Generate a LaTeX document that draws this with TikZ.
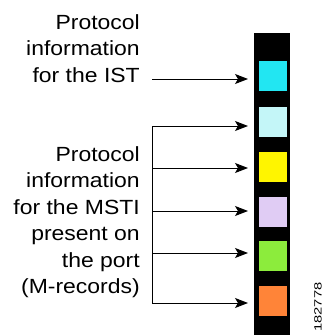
\documentclass[tikz,border=0pt]{standalone}
\usepackage{fontspec}
\setmainfont{Liberation Sans}
\usetikzlibrary{arrows.meta}
\definecolor{cIST}{HTML}{22E6F2}
\definecolor{cLC}{HTML}{C4F6F8}
\definecolor{cYel}{HTML}{FFF500}
\definecolor{cLav}{HTML}{E0CCF4}
\definecolor{cGrn}{HTML}{8CEC3C}
\definecolor{cOrg}{HTML}{FF8438}
\tikzset{
  sq/.style={draw=none, minimum width=28bp, minimum height=30bp, inner sep=0pt, outer sep=0pt},
  lbl/.style={align=right, anchor=north east, inner sep=0pt, xscale=1.12, transform shape,
    font=\fontsize{20.5bp}{26.5bp}\selectfont},
  arr/.style={line width=1bp, -{Stealth[length=13bp,width=10bp,inset=3bp]}, shorten >=11bp},
  ln/.style={line width=1bp}
}
\begin{document}
\begin{tikzpicture}[x=1bp,y=-1bp]
\useasboundingbox (0,0) rectangle (328,335);
\fill[white] (0,0) rectangle (328,335);
% bar
\fill[black] (254,33) rectangle (290,335);
\node[sq, fill=cIST] (s1) at (273,76) {};
\node[sq, fill=cLC]  (s2) at (273,122) {};
\node[sq, fill=cYel] (s3) at (273,166.5) {};
\node[sq, fill=cLav] (s4) at (273,211.5) {};
\node[sq, fill=cGrn] (s5) at (273,255.5) {};
\node[sq, fill=cOrg] (s6) at (273,300.5) {};
% labels
\node[lbl] (t1) at (140,14) {Protocol\\information\\for the IST};
\node[lbl] (t2) at (140,146) {Protocol\\information\\for the MSTI\\present on\\the port\\(M-records)};
% connectors
\coordinate (c1) at (152,79);
\coordinate (v2) at (152,126);
\coordinate (v3) at (152,168);
\coordinate (v4) at (152,211);
\coordinate (v5) at (152,253);
\coordinate (v6) at (152,303);
\draw[arr] (c1) -- (c1 -| s1.west);
\draw[ln] (v2) -- (v6);
\draw[arr] (v2) -- (v2 -| s2.west);
\draw[arr] (v3) -- (v3 -| s3.west);
\draw[arr] (v4) -- (v4 -| s4.west);
\draw[arr] (v5) -- (v5 -| s5.west);
\draw[arr] (v6) -- (v6 -| s6.west);
% figure number
\node[rotate=90, font=\fontsize{10.5bp}{10.5bp}\selectfont, xscale=1.4, inner sep=0pt] (num) at (318,307) {182778};
\end{tikzpicture}
\end{document}
